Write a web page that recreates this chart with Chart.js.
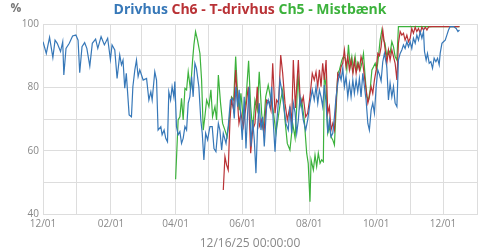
<!DOCTYPE html>
<html>
<head>
<meta charset="utf-8">
<script src="https://cdn.jsdelivr.net/npm/chart.js@4/dist/chart.umd.min.js"></script>
<style>
  body { margin: 0; background: #fff; }
</style>
</head>
<body>
<canvas id="chart" width="500" height="250"></canvas>
<script>
// x values are days counted from 12/01/24
const monthDays = [0, 31, 62, 90, 121, 151, 182, 212, 243, 274, 304, 335, 365, 396];
const monthLabels = ["12/01", "", "02/01", "", "04/01", "", "06/01", "", "08/01", "", "10/01", "", "12/01", ""];
const yLabels = [40, 60, 80, 100];

const drivhusDays = [0, 3, 6, 9, 11, 13, 16, 18, 19, 21, 24, 27, 30, 32, 33.5, 35.6, 38, 40, 42.7, 45, 48, 50, 53, 56, 59, 61.5, 63, 65.5, 67.6, 70, 71.6, 73, 74.6, 76, 78.6, 80.7, 82, 83.8, 85.3, 86.8, 88.3, 91.4, 94.5, 96.6, 98.4, 99.6, 102, 103.6, 105, 107.5, 108.7, 110.5, 112, 113.6, 114.8, 116.4, 117.8, 119.4, 120.3, 121.8, 123.3, 124.9, 126.4, 127.9, 129.5, 131, 132.5, 134, 135.6, 137, 138.6, 140, 142.2, 144, 145.3, 146.8, 148.4, 150.2, 152.3, 154.4, 156, 157.8, 160, 161.4, 163, 164.5, 167, 169, 171, 173, 174.5, 176, 177.6, 179, 180.6, 181.8, 183.6, 185.2, 186.7, 188.2, 189.8, 191.3, 192.8, 194.3, 195.8, 197.3, 198.9, 200.4, 201.9, 204, 205.5, 207, 208.6, 210, 211.7, 213.2, 214.7, 216.2, 217.8, 219.3, 221.7, 223.8, 225.3, 226.9, 228.4, 230, 231.5, 233, 234.5, 236, 237.5, 239.7, 241.5, 243.6, 245.7, 247.5, 249.1, 250.7, 252.2, 253.7, 255.2, 256.7, 258.3, 259.8, 261.3, 262.8, 264.4, 265.9, 267.4, 269, 270.5, 272, 273.5, 275, 276.5, 278.1, 279.6, 281.1, 282.7, 284.1, 285.7, 287.2, 288.7, 290.2, 291.8, 293.3, 294.8, 296.4, 297.8, 299.4, 300.9, 302.4, 304, 305.5, 307, 308.5, 310, 311.5, 313.7, 315.2, 316.7, 318.3, 319.8, 321.3, 322.9, 324.3, 325.9, 327.4, 328.9, 330.4, 332, 333.5, 335, 336.5, 338, 339.6, 341.1, 342.6, 344.2, 345.7, 347.2, 348.1, 349.6, 350.8, 352.4, 353.9, 355.4, 356.9, 358.5, 360, 361.5, 362.4, 364, 365.4, 367, 368.5, 370, 371.5, 374.6, 377, 378.6, 380];
const drivhusValues = [94.4, 90.7, 95.8, 89.4, 94.9, 93.9, 91.3, 94.4, 83.9, 92.3, 93.9, 96.2, 96.5, 94.9, 84.6, 92.8, 94.1, 92.3, 86.7, 93.9, 95.2, 92.3, 96, 93.4, 95.5, 88.8, 93.4, 91.8, 82.8, 90.2, 87.1, 88.6, 79.7, 84.4, 71.3, 70.7, 80.2, 85.5, 88.6, 83.4, 85.5, 82.3, 82.8, 76, 78.6, 76, 84.9, 82.3, 66.5, 67.6, 65, 66.5, 63.9, 62.8, 78.6, 76, 80.2, 77, 81.8, 67.6, 65, 66, 62.3, 63.9, 67.6, 66.5, 75, 77, 83.4, 77, 87.6, 86, 80.2, 69.7, 65.5, 57.1, 65.5, 63.4, 67.6, 67.6, 60.7, 59.7, 68.6, 66.5, 60.2, 65.5, 62.3, 67.6, 76, 76.5, 70.2, 80.2, 73.9, 79.2, 69.7, 63.4, 77, 60.7, 71.8, 80.2, 61.3, 69.7, 63.4, 52.9, 67.6, 75, 66.5, 70.7, 61.3, 73.9, 76, 73.9, 80.2, 69.7, 59.7, 68.6, 75, 82.3, 79.2, 75, 68.6, 66.5, 73.9, 65.5, 75, 72, 65.5, 69.7, 77, 73.9, 69.7, 66.5, 69.7, 75, 79.2, 76, 80.2, 75, 79.2, 77, 73.9, 80.7, 75, 65.5, 69.7, 64.4, 65.5, 70.7, 77, 81.3, 84.4, 82.3, 86, 80.2, 83.4, 77, 81.3, 77, 82.3, 78.1, 82.3, 78.6, 82.8, 77, 84.4, 80.2, 76, 68.6, 66.5, 72.8, 75, 71.8, 80.2, 85.5, 84, 82, 88, 90.7, 86.5, 76, 81.3, 77, 80.2, 75, 73.9, 88.6, 90.7, 91.8, 93.4, 92.3, 94.4, 92.8, 94.4, 92.3, 95.5, 93.9, 96.5, 94.9, 97.6, 95.5, 97.6, 91.3, 88.6, 90.7, 87.6, 88.1, 86, 89.2, 88.1, 89.2, 87.1, 90.7, 93.9, 94.4, 94.9, 96.5, 98.1, 99.2, 99.2, 98.6, 97.6, 98.1];

const ch6Days = [164.5, 166, 167.5, 169, 170.6, 172, 174, 175.8, 177.2, 178.8, 180.6, 182.7, 185.2, 187.3, 189.5, 191.3, 193.4, 195.5, 197.3, 199.5, 201.6, 204, 206.2, 208, 209.6, 211.7, 213.2, 215, 216.9, 218.7, 220.8, 222.9, 225.3, 226.9, 228.4, 230.3, 231.5, 233, 234.5, 236, 237.5, 239.7, 241.5, 243.6, 245.7, 247.5, 249.1, 250.7, 252.2, 253.7, 255.2, 256.7, 258.3, 259.8, 261.3, 262.8, 264.4, 265.9, 267.4, 269, 270.5, 272, 273.5, 275, 276.5, 278.1, 279.6, 281.1, 282.7, 284.1, 285.7, 287.2, 288.7, 290.2, 291.8, 293.3, 294.8, 296.4, 297.8, 299.4, 300.9, 302.4, 304, 305.5, 307, 308.5, 310, 311.5, 313.7, 315.2, 316.7, 318.3, 319.8, 321.3, 322.9, 324.3, 325.9, 327.4, 328.9, 330.4, 332, 333.5, 335, 336.5, 338, 339.6, 341.1, 342.6, 344.2, 345.7, 347.2, 348.8, 350.3, 351.8, 355, 360, 365, 370, 375, 380];
const ch6Values = [47.6, 58.1, 55.5, 53.9, 69.7, 76, 72.8, 85.5, 77, 68.6, 71.8, 67.6, 73.9, 80.2, 59.2, 66.5, 68.6, 80.2, 67.6, 69.7, 65.5, 76, 75.5, 72.8, 87.6, 71.8, 76, 75, 90.2, 84.4, 75, 69.7, 73.9, 68.6, 88.6, 73.5, 80.2, 88.6, 77, 75, 77, 70.7, 71.8, 77, 84.4, 82.3, 84.9, 80.2, 85.5, 80.2, 87.6, 82.3, 88.6, 71.8, 73.9, 66.5, 68.6, 66.5, 75, 84.4, 83.4, 86.5, 87.6, 91.8, 86.5, 89.7, 85.5, 88.6, 84.4, 88.6, 84.4, 87.6, 85.5, 89.7, 87.6, 83.4, 79.2, 75, 77, 80.2, 78.1, 82.3, 85.5, 90.7, 90, 92.8, 98.1, 93.9, 87.6, 91.8, 88.6, 91.8, 89.7, 87.6, 82.3, 93.9, 97.6, 96.5, 97.1, 94.9, 96.5, 94.4, 95.5, 98.6, 97.1, 99, 97.6, 98.6, 97.1, 99, 98.1, 99, 98.1, 99.1, 99.2, 99.2, 99.2, 99.2, 99.2, 99.2];

const ch5Days = [121, 123.3, 124.9, 126.4, 127.9, 129.5, 131, 132.5, 134.6, 136.5, 137.7, 139.2, 141, 143.2, 144.7, 146.2, 147.7, 149.3, 151.4, 153.2, 154.7, 156.9, 158.4, 160, 162, 163.9, 166, 168, 170, 172, 174, 175.8, 177.2, 179, 180.6, 182.7, 185.2, 187.6, 189.5, 191.3, 193.4, 195.5, 197.3, 199.5, 201, 203.2, 205.5, 207.7, 210, 212.6, 214.7, 216.9, 218.7, 220.8, 222.9, 225.3, 227.8, 230, 231.5, 232.5, 234.5, 236, 238.4, 240.6, 242, 243.6, 244.6, 246.7, 248.2, 249.7, 251.2, 252.8, 254.3, 255.8, 256.7, 258.3, 259.8, 261.3, 262.8, 264.4, 265.9, 267.4, 269, 270.5, 272.7, 274.1, 275.7, 277.2, 278.7, 280.3, 281.8, 283.3, 284.8, 286.3, 287.8, 289.4, 290.9, 292.4, 293.9, 295.5, 297, 298.5, 300.1, 301.6, 303.1, 304.6, 306.1, 307.6, 309.2, 310.7, 312, 313.7, 315.2, 316.7, 318.3, 319.8, 321.3, 322.9, 324.3, 350, 380];
const ch5Values = [51, 69.7, 70.7, 76.5, 69.7, 79.7, 79.2, 84.9, 79.2, 88.6, 93.4, 97.6, 94.9, 90.7, 82.3, 66.5, 70.7, 76, 73.9, 79.2, 70.7, 73.9, 69.7, 83.9, 75, 68.6, 66.5, 64.4, 69.7, 77, 76, 89.7, 80.2, 72.8, 78.1, 69.7, 76, 88.4, 73.9, 66.5, 76, 72.8, 84.9, 71.8, 66.5, 77, 80.7, 76.5, 72.8, 65.5, 70.7, 76, 79.2, 69.7, 62.3, 60.2, 68.6, 64, 73.9, 85, 73.9, 76, 69.7, 59.2, 56, 43.9, 57.1, 53.9, 58.6, 55, 59.2, 56, 57.1, 56.5, 84.4, 80.2, 65.5, 67.6, 64.4, 63.4, 61.8, 72.8, 84.4, 85.5, 88.6, 89.7, 89.2, 85.5, 93.4, 86.5, 89.7, 85.5, 89.7, 85.5, 87.6, 85.5, 87.6, 90.7, 83.4, 77, 76, 79.2, 85.5, 86.5, 87.6, 85.5, 89.7, 94.9, 98.1, 94.9, 94, 89.7, 91.8, 90.7, 94.4, 92.8, 89.7, 88.6, 99.2, 99.2, 99.2];

const blue = "#3778b8";
const red = "#b93236";
const green = "#3cb23c";
const gridColor = "#dddddd";

const titleParts = [
  { text: "Drivhus", color: blue },
  { text: " Ch6 - T-drivhus", color: red },
  { text: " Ch5 - Mistbænk", color: green },
];

function toPoints(days, values) {
  return days.map((d, i) => ({ x: d, y: values[i] }));
}

function lineSet(label, days, values, color) {
  return {
    label: label,
    data: toPoints(days, values),
    borderColor: color,
    borderWidth: 1.2,
    pointRadius: 0,
    fill: false,
    tension: 0,
  };
}

// title in three colours, the "%" unit and the date under the x axis
const textPlugin = {
  id: "texts",
  afterDraw(chart) {
    const ctx = chart.ctx;
    ctx.save();
    ctx.textBaseline = "middle";
    ctx.font = "bold 14px 'Open Sans'";
    let total = 0;
    titleParts.forEach((p) => (total += ctx.measureText(p.text).width));
    let x = 250 - total / 2;
    ctx.textAlign = "left";
    titleParts.forEach((p) => {
      ctx.fillStyle = p.color;
      ctx.fillText(p.text, x, 10);
      x += ctx.measureText(p.text).width;
    });

    ctx.fillStyle = "#777";
    ctx.font = "bold 12px 'Open Sans'";
    ctx.textAlign = "center";
    ctx.fillText("%", 16, 9);

    ctx.fillStyle = "#888";
    ctx.font = "12px 'Open Sans'";
    ctx.fillText("12/16/25 00:00:00", 250, 244);
    ctx.restore();
  },
};

const ctx = document.getElementById("chart").getContext("2d");
const chart = new Chart(ctx, {
  type: "line",
  data: {
    datasets: [
      lineSet("Drivhus", drivhusDays, drivhusValues, blue),
      lineSet("Ch6 - T-drivhus", ch6Days, ch6Values, red),
      lineSet("Ch5 - Mistbænk", ch5Days, ch5Values, green),
    ],
  },
  options: {
    responsive: false,
    animation: false,
    devicePixelRatio: 1,
    layout: { padding: { top: 24, right: 23, left: 0, bottom: 0 } },
    plugins: {
      legend: { display: false },
      tooltip: { enabled: false },
      title: { display: false },
    },
    scales: {
      x: {
        type: "linear",
        min: 0,
        max: 396,
        afterBuildTicks: (scale) => {
          scale.ticks = monthDays.map((v) => ({ value: v }));
        },
        afterFit: (scale) => {
          scale.height = 36;
        },
        ticks: {
          autoSkip: false,
          maxRotation: 0,
          padding: 4,
          color: "#888",
          font: { family: "'Open Sans'", size: 10 },
          callback: (v) => monthLabels[monthDays.indexOf(v)],
        },
        grid: { color: gridColor, drawTicks: false },
        border: { color: gridColor },
      },
      y: {
        min: 40,
        max: 100,
        afterFit: (scale) => {
          scale.width = 43;
        },
        ticks: {
          stepSize: 10,
          padding: 4,
          color: "#888",
          font: { family: "'Open Sans'", size: 10 },
          callback: (v) => (yLabels.includes(v) ? String(v) : ""),
        },
        grid: { color: gridColor, drawTicks: false },
        border: { color: gridColor },
      },
    },
  },
  plugins: [textPlugin],
});
</script>
</body>
</html>
